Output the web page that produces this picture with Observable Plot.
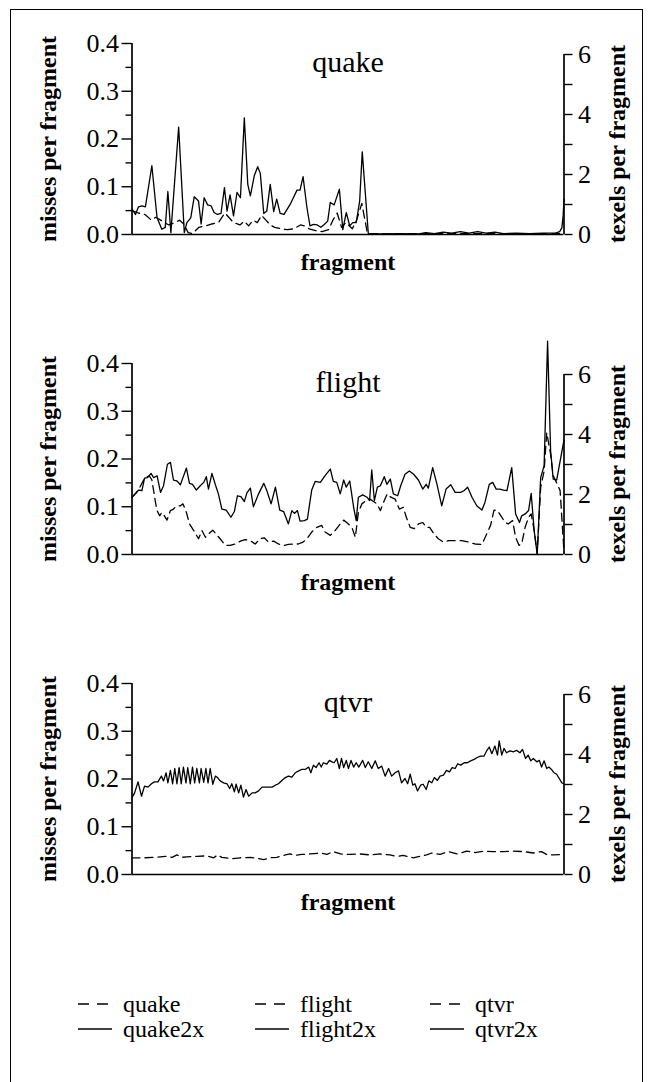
<!DOCTYPE html>
<html><head><meta charset="utf-8">
<script src="https://cdn.jsdelivr.net/npm/d3@7"></script>
<script src="https://cdn.jsdelivr.net/npm/@observablehq/plot@0.6"></script>
<style>
html,body{margin:0;padding:0;background:#fff;}
body{width:650px;height:1082px;overflow:hidden;position:relative;font-family:'Liberation Serif','DejaVu Serif',serif;}
#border{position:absolute;left:10px;top:9px;width:631px;height:1200px;border:1.5px solid #000;}
#legend{position:absolute;left:0;top:980px;}
</style></head><body>
<div id="border"></div>
<div id="charts"></div>
<svg id="legend" width="650" height="80"></svg>
<script>
// [fragment (percent of run), value]
const quake = [[0,0.050],[1.5,0.045],[3,0.042],[4.5,0.030],[5.5,0.036],[7,0.028],[8.5,0.020],[10,0.025],[11,0.030],[12,0.022],[13,0.004],[14,0.002],[15.5,0.015],[17,0.018],[18.5,0.022],[20,0.025],[21.5,0.045],[22.5,0.035],[23.5,0.025],[25,0.020],[26,0.028],[27,0.018],[28,0.030],[29,0.025],[30,0.040],[31,0.030],[32,0.020],[33,0.015],[34.5,0.012],[36,0.010],[37.5,0.012],[39,0.020],[40,0.018],[41,0.012],[42.5,0.008],[44,0.006],[45.5,0.010],[46.5,0.030],[47.5,0.045],[48.5,0.015],[49.5,0.025],[51,0.012],[52,0.030],[53.2,0.065],[54.5,0.002],[60,0.001],[70,0.002],[80,0.002],[90,0.001],[100,0.002]];
const quake2x = [[0,0.053],[0.8,0.042],[1.5,0.058],[2.3,0.060],[3.1,0.058],[4.6,0.144],[5.8,0.035],[6.9,0.011],[7.7,0.015],[8.3,0.090],[9.0,0.004],[10.8,0.225],[12.1,0.004],[12.7,0.025],[13.6,0.035],[14.4,0.079],[15.4,0.070],[16.0,0.022],[16.7,0.077],[17.5,0.062],[18.3,0.060],[19.0,0.046],[19.8,0.042],[20.6,0.044],[21.4,0.098],[22.0,0.049],[22.7,0.083],[23.5,0.039],[24.3,0.088],[25.1,0.077],[26.0,0.244],[26.8,0.105],[27.4,0.081],[28.3,0.123],[29.1,0.142],[29.7,0.128],[30.5,0.044],[31.2,0.049],[32.0,0.105],[32.8,0.048],[33.5,0.074],[34.3,0.044],[35.2,0.042],[36.6,0.063],[38.2,0.093],[38.9,0.093],[39.6,0.121],[40.5,0.056],[41.2,0.018],[42.0,0.021],[42.9,0.020],[43.7,0.015],[44.5,0.021],[45.3,0.028],[45.9,0.067],[46.8,0.062],[48.0,0.095],[48.8,0.010],[49.6,0.046],[50.4,0.018],[51.1,0.025],[51.9,0.025],[52.7,0.070],[53.3,0.173],[54.7,0.002],[58,0.001],[62,0.002],[66,0.001],[68,0.004],[70,0.002],[72,0.005],[74,0.003],[76,0.006],[78,0.003],[80,0.006],[82,0.003],[84,0.005],[86,0.002],[89,0.003],[92,0.002],[95,0.003],[98,0.003],[99.0,0.006],[99.5,0.014],[99.8,0.039],[100,0.074]];
const flight = [[0,0.120],[1.5,0.135],[2.9,0.160],[4.0,0.165],[4.6,0.156],[5.0,0.134],[5.4,0.111],[5.8,0.092],[6.4,0.081],[6.9,0.088],[7.5,0.081],[8.1,0.072],[8.9,0.092],[9.6,0.095],[10.3,0.102],[11.2,0.102],[11.8,0.106],[12.6,0.088],[13.3,0.064],[14.3,0.050],[15.4,0.033],[16.2,0.050],[17.0,0.036],[17.7,0.043],[18.7,0.051],[19.7,0.040],[20.4,0.033],[21.6,0.019],[22.7,0.019],[23.9,0.022],[25.1,0.028],[26.2,0.031],[27.4,0.029],[28.5,0.022],[29.7,0.033],[30.6,0.035],[31.6,0.026],[32.8,0.028],[33.9,0.022],[35.1,0.019],[36.2,0.021],[37.4,0.022],[38.5,0.022],[39.6,0.026],[40.5,0.033],[41.6,0.047],[42.8,0.057],[43.9,0.061],[44.7,0.047],[45.9,0.040],[47.0,0.050],[48.2,0.064],[49.0,0.072],[49.7,0.067],[50.9,0.057],[51.7,0.036],[52.4,0.088],[53.2,0.106],[54.2,0.113],[55.1,0.116],[55.9,0.111],[56.7,0.106],[57.5,0.092],[58.4,0.113],[59.1,0.127],[59.9,0.120],[60.9,0.116],[61.9,0.095],[62.8,0.099],[63.5,0.078],[64.4,0.057],[65.3,0.054],[66.3,0.064],[67.3,0.067],[68.1,0.057],[68.9,0.057],[69.9,0.043],[70.9,0.033],[72.1,0.026],[73.3,0.029],[74.8,0.029],[76.3,0.029],[77.9,0.026],[79.4,0.022],[81.0,0.021],[82.1,0.043],[83.0,0.061],[83.8,0.093],[84.6,0.092],[85.4,0.081],[86.4,0.067],[87.1,0.064],[88.1,0.071],[88.8,0.036],[89.6,0.019],[90.2,0.022],[91.0,0.057],[91.8,0.078],[92.4,0.085],[93.1,0.050],[93.8,0.002],[94.6,0.140],[95.4,0.175],[96.0,0.255],[96.9,0.210],[97.5,0.165],[98.3,0.150],[99.1,0.134],[100,0.005]];
const flight2x = [[0,0.120],[0.8,0.127],[1.5,0.135],[2.3,0.134],[2.9,0.160],[3.6,0.161],[4.4,0.170],[5.0,0.161],[5.8,0.165],[6.6,0.130],[7.3,0.144],[8.2,0.189],[8.9,0.193],[9.6,0.156],[10.4,0.154],[11.2,0.146],[11.8,0.161],[12.6,0.181],[13.3,0.149],[14.0,0.147],[14.9,0.135],[15.8,0.144],[16.6,0.151],[17.2,0.163],[17.7,0.137],[18.5,0.170],[19.3,0.146],[20.0,0.127],[20.8,0.095],[21.8,0.093],[22.9,0.078],[23.7,0.090],[24.4,0.123],[25.2,0.121],[26.0,0.111],[26.6,0.129],[27.4,0.139],[28.1,0.100],[29.3,0.127],[30.5,0.149],[31.2,0.134],[32.2,0.106],[33.2,0.141],[34.2,0.093],[35.1,0.090],[36.2,0.064],[37.0,0.092],[37.6,0.086],[38.3,0.092],[38.9,0.070],[39.9,0.071],[40.6,0.074],[41.6,0.135],[42.4,0.153],[43.6,0.151],[44.7,0.165],[45.9,0.179],[46.6,0.153],[47.4,0.151],[48.2,0.127],[49.0,0.156],[49.6,0.141],[50.4,0.154],[51.3,0.099],[51.9,0.071],[52.4,0.120],[53.4,0.125],[54.4,0.120],[55.0,0.113],[55.5,0.177],[56.1,0.113],[56.8,0.141],[57.5,0.144],[58.4,0.163],[59.0,0.147],[59.8,0.158],[60.5,0.127],[61.5,0.123],[62.2,0.144],[63.2,0.168],[64.2,0.175],[65.2,0.168],[66.3,0.156],[67.3,0.137],[68.1,0.147],[68.6,0.139],[69.6,0.182],[70.6,0.147],[71.7,0.102],[72.7,0.137],[73.8,0.146],[74.8,0.130],[76.1,0.130],[76.9,0.134],[77.7,0.141],[78.7,0.120],[79.8,0.102],[81.0,0.093],[81.7,0.109],[82.7,0.147],[83.5,0.151],[84.3,0.137],[85.1,0.137],[86.0,0.135],[86.8,0.134],[87.9,0.182],[88.8,0.085],[89.7,0.067],[90.2,0.081],[91.0,0.085],[91.8,0.092],[92.4,0.128],[93.1,0.050],[93.8,0.000],[94.6,0.161],[95.4,0.186],[96.2,0.447],[96.9,0.217],[97.5,0.158],[98.3,0.156],[100,0.240]];
const qtvr = [[0,0.035],[2.7,0.035],[5.4,0.036],[7.7,0.038],[9.3,0.036],[10.4,0.041],[11.6,0.036],[12.7,0.037],[15.0,0.038],[17.3,0.039],[18.9,0.035],[19.8,0.041],[20.8,0.036],[23.1,0.033],[25.1,0.035],[27.4,0.036],[28.9,0.034],[30.5,0.031],[32.0,0.035],[33.5,0.036],[35.5,0.041],[36.6,0.043],[37.8,0.040],[39.3,0.042],[41.2,0.043],[43.6,0.045],[45.1,0.042],[46.6,0.048],[48.3,0.043],[50.5,0.042],[52.8,0.043],[55.1,0.041],[57.4,0.043],[59.7,0.041],[61.3,0.038],[62.8,0.040],[65.1,0.035],[66.7,0.038],[68.2,0.041],[69.4,0.045],[71.3,0.042],[73.2,0.048],[75.2,0.043],[77.5,0.049],[79.4,0.046],[81.5,0.049],[83.6,0.048],[86.0,0.048],[88.3,0.049],[90.6,0.048],[92.9,0.045],[94.8,0.048],[96.0,0.042],[97.5,0.041],[99.5,0.042]];
const qtvr2x = [[0,0.161],[0.6,0.171],[1.4,0.194],[2.2,0.164],[2.9,0.185],[3.7,0.183],[4.5,0.190],[5.2,0.194],[6.0,0.194],[6.8,0.206],[7.3,0.196],[7.9,0.213],[8.3,0.192],[8.9,0.218],[9.4,0.190],[9.9,0.222],[10.4,0.190],[10.9,0.224],[11.4,0.190],[11.9,0.225],[12.5,0.192],[12.9,0.224],[13.5,0.190],[14.0,0.225],[14.5,0.192],[15.0,0.222],[15.6,0.192],[16.0,0.222],[16.6,0.193],[17.1,0.222],[17.6,0.192],[18.1,0.222],[18.7,0.189],[19.3,0.206],[19.8,0.203],[20.4,0.196],[21.2,0.192],[22.0,0.190],[22.6,0.180],[23.1,0.190],[23.7,0.173],[24.1,0.189],[24.7,0.171],[25.2,0.187],[25.8,0.162],[26.4,0.178],[27.0,0.164],[27.8,0.171],[28.5,0.171],[29.3,0.175],[30.1,0.183],[30.8,0.183],[31.6,0.183],[32.4,0.183],[33.2,0.187],[33.9,0.190],[34.7,0.197],[35.5,0.203],[36.2,0.206],[37.0,0.204],[37.8,0.213],[38.6,0.217],[39.3,0.220],[40.1,0.220],[40.9,0.225],[41.4,0.213],[42.0,0.229],[42.6,0.224],[43.3,0.234],[43.8,0.225],[44.3,0.234],[45.1,0.231],[45.7,0.239],[46.3,0.236],[46.8,0.234],[47.4,0.243],[48.0,0.222],[48.5,0.243],[49.0,0.224],[49.6,0.239],[50.1,0.222],[50.7,0.239],[51.3,0.225],[51.9,0.234],[52.5,0.225],[53.4,0.239],[54.0,0.224],[54.7,0.236],[55.5,0.222],[56.3,0.238],[57.0,0.222],[57.8,0.227],[58.6,0.206],[59.4,0.222],[60.1,0.206],[60.9,0.213],[61.7,0.217],[62.4,0.192],[63.2,0.201],[63.8,0.190],[64.4,0.210],[65.0,0.187],[65.5,0.190],[66.1,0.175],[66.8,0.187],[67.4,0.189],[68.1,0.178],[68.7,0.196],[69.4,0.192],[70.0,0.203],[70.7,0.197],[71.3,0.206],[72.1,0.208],[72.8,0.218],[73.5,0.215],[74.1,0.224],[74.8,0.222],[75.4,0.232],[76.1,0.229],[76.9,0.234],[77.6,0.234],[78.4,0.238],[79.2,0.241],[79.9,0.245],[80.7,0.248],[81.5,0.248],[82.1,0.259],[82.7,0.267],[83.3,0.253],[84.0,0.269],[84.6,0.250],[85.0,0.280],[85.6,0.250],[86.1,0.264],[86.7,0.255],[87.5,0.259],[88.3,0.257],[89.0,0.260],[89.8,0.255],[90.4,0.262],[91.1,0.243],[91.7,0.250],[92.3,0.238],[92.9,0.243],[93.7,0.236],[94.3,0.239],[94.8,0.225],[95.4,0.238],[96.0,0.222],[96.5,0.225],[97.1,0.220],[97.7,0.213],[98.3,0.210],[98.9,0.201],[99.5,0.192],[100,0.190]];

const panelNames = ["quake", "flight", "qtvr"];
const leftMajorTicks = [0, 0.1, 0.2, 0.3, 0.4];
const leftMinorTicks = [0.05, 0.15, 0.25, 0.35];
const rightTicks = [0, 1, 2, 3, 4, 5, 6];
const rightLabeledTicks = [0, 2, 4, 6];
const legendDashed = ["quake", "flight", "qtvr"];
const legendSolid = ["quake2x", "flight2x", "qtvr2x"];

const FONT = "'Liberation Serif', 'DejaVu Serif', serif";
const texel = 0.4 * 180 / 191 / 6; // left-axis units per right-axis unit

function panel(name, misses, misses2x, top) {
  const rows = arr => arr.map(([f, v]) => ({fragment: f, value: v}));
  const chart = Plot.plot({
    width: 650, height: 320,
    marginLeft: 131.5, marginRight: 86.5, marginTop: 43, marginBottom: 86,
    x: {domain: [0, 100], axis: null},
    y: {domain: [0, 0.4], label: null},
    style: {fontFamily: FONT, fontSize: "24px", color: "black", background: "transparent", overflow: "visible"},
    marks: [
      Plot.axisY({ticks: leftMajorTicks, anchor: "left", tickSize: 10, tickPadding: 3, tickFormat: d3.format(".1f"), strokeWidth: 1.4, fontSize: 26, label: null}),
      Plot.axisY({ticks: leftMinorTicks, anchor: "left", tickSize: 6, tickFormat: () => "", strokeWidth: 1.4, label: null}),
      Plot.axisY({ticks: rightTicks.map(t => t * texel), anchor: "right", tickSize: 8, tickPadding: 6, strokeWidth: 1.4, fontSize: 26, label: null,
        tickFormat: d => { const t = Math.round(d / texel); return rightLabeledTicks.includes(t) ? String(t) : ""; }}),
      Plot.ruleY([0], {strokeWidth: 1.7}),
      Plot.ruleX([0], {y1: 0, y2: 0.4, strokeWidth: 1.7}),
      Plot.ruleX([100], {y1: 0, y2: 6 * texel, strokeWidth: 1.7}),
      Plot.lineY(rows(misses), {x: "fragment", y: "value", stroke: "black", strokeWidth: 1.3, strokeDasharray: "8,5"}),
      Plot.lineY(rows(misses2x), {x: "fragment", y: "value", stroke: "black", strokeWidth: 1.3}),
      Plot.text([name], {frameAnchor: "top", dy: 19, fontSize: 30, lineAnchor: "middle"}),
      Plot.text(["misses per fragment"], {frameAnchor: "left", textAnchor: "middle", dx: -83.5, rotate: -90, fontWeight: "bold", lineAnchor: "middle"}),
      Plot.text(["texels per fragment"], {frameAnchor: "right", textAnchor: "middle", dx: 53, dy: 5, rotate: -90, fontWeight: "bold", lineAnchor: "middle"}),
      Plot.text(["fragment"], {frameAnchor: "bottom", dy: 28, fontWeight: "bold", lineAnchor: "middle"})
    ]
  });
  chart.style.position = "absolute";
  chart.style.left = "0px";
  chart.style.top = top + "px";
  document.getElementById("charts").appendChild(chart);
}

panel(panelNames[0], quake, quake2x, 0);
panel(panelNames[1], flight, flight2x, 319.5);
panel(panelNames[2], qtvr, qtvr2x, 640);

// legend
const lg = d3.select("#legend").style("font-family", FONT);
const colX = [78, 255, 430];
legendDashed.forEach((lab, i) => {
  lg.append("line").attr("x1", colX[i]).attr("x2", colX[i] + 30).attr("y1", 24).attr("y2", 24)
    .attr("stroke", "black").attr("stroke-width", 1.3).attr("stroke-dasharray", "11,8");
  lg.append("text").attr("x", colX[i] + 45).attr("y", 24).attr("dy", "0.32em")
    .attr("font-size", 24).text(lab);
});
legendSolid.forEach((lab, i) => {
  lg.append("line").attr("x1", colX[i]).attr("x2", colX[i] + 34).attr("y1", 49).attr("y2", 49)
    .attr("stroke", "black").attr("stroke-width", 1.3);
  lg.append("text").attr("x", colX[i] + 45).attr("y", 49).attr("dy", "0.32em")
    .attr("font-size", 24).text(lab);
});
</script>
</body></html>
